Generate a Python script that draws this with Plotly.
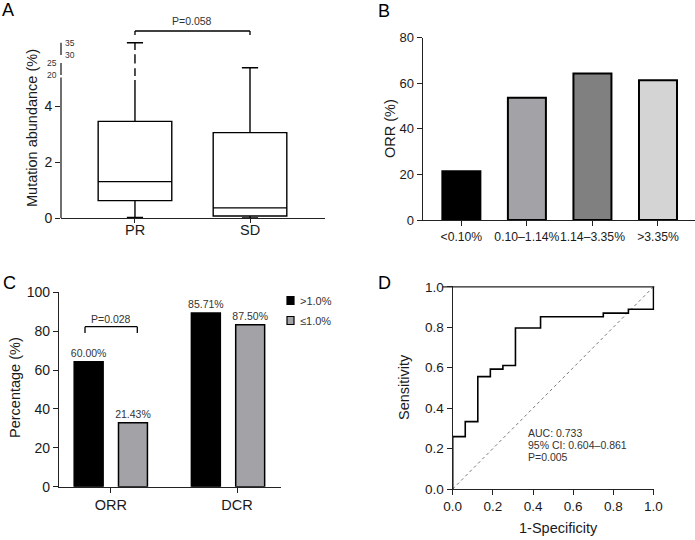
import plotly.graph_objects as go

W, H = 695, 540
FONT = "Liberation Sans, Arial, Helvetica, sans-serif"
TXT = "#1a1a1a"
AX = "#222222"

# ---------------- Data ----------------
# Panel A: mutation abundance box stats (%)
a_groups = ["PR", "SD"]
a_lower = [0.02, 0.0]
a_q1 = [0.62, 0.07]
a_median = [1.30, 0.36]
a_q3 = [3.45, 3.05]
a_upper = [35.0, 23.0]
a_p_text = "P=0.058"

# Panel B: ORR by abundance bins
b_cats = ["<0.10%", "0.10–1.14%", "1.14–3.35%", ">3.35%"]
b_orr = [21.4, 53.6, 64.3, 61.3]
b_colors = ["#000000", "#a3a3a7", "#808080", "#d4d4d4"]

# Panel C: ORR / DCR by group
c_cats = ["ORR", "DCR"]
c_high = [64.3, 89.3]
c_low = [32.9, 83.3]
c_high_lbl = ["60.00%", "85.71%"]
c_low_lbl = ["21.43%", "87.50%"]
c_series = [">1.0%", "≤1.0%"]
c_colors = ["#000000", "#a3a3a7"]
c_p_text = "P=0.028"

# Panel D: ROC curve
d_fpr = [0, 0, 0.0625, 0.125, 0.1875, 0.25, 0.3125, 0.4375, 0.75, 0.875, 1.0]
d_tpr = [0, 0.259, 0.333, 0.556, 0.593, 0.611, 0.796, 0.852, 0.870, 0.889, 1.0]
d_stats = ["AUC: 0.733", "95% CI: 0.604–0.861", "P=0.005"]


def px(x):
    return x / W


def py(y):
    return 1 - y / H


# broken-axis transform for panel A
def brk(v):
    if v <= 5:
        return v
    if v <= 25:
        return 5.11 + (v - 20) * 0.086
    return 5.82 + (v - 30) * 0.088


fig = go.Figure()

# ---------------- Panel A ----------------
for i, g in enumerate(a_groups):
    fig.add_trace(go.Box(
        x=[i], q1=[brk(a_q1[i])], median=[brk(a_median[i])], q3=[brk(a_q3[i])],
        lowerfence=[brk(a_lower[i])], upperfence=[brk(a_upper[i])],
        width=0.64, whiskerwidth=0.22, fillcolor="white",
        line=dict(color="black", width=1.4), boxpoints=False,
        xaxis="x", yaxis="y", showlegend=False, hoverinfo="skip"))

# ---------------- Panel B ----------------
fig.add_trace(go.Bar(
    x=b_cats, y=b_orr, width=0.58,
    marker=dict(color=b_colors, line=dict(color="black", width=2)),
    xaxis="x2", yaxis="y2", showlegend=False))

# ---------------- Panel C ----------------
bw = 0.247
fig.add_trace(go.Bar(
    x=[0, 1], y=c_high, width=bw, offset=-0.189 - bw / 2,
    marker=dict(color=c_colors[0], line=dict(color="black", width=1.5)),
    text=c_high_lbl, textposition="outside", cliponaxis=False, constraintext="none",
    textfont=dict(size=10.5, color="#333", family=FONT),
    xaxis="x3", yaxis="y3", name=c_series[0], showlegend=False))
fig.add_trace(go.Bar(
    x=[0, 1], y=c_low, width=bw, offset=0.189 - bw / 2,
    marker=dict(color=c_colors[1], line=dict(color="black", width=1.5)),
    text=c_low_lbl, textposition="outside", cliponaxis=False, constraintext="none",
    textfont=dict(size=10.5, color="#333", family=FONT),
    xaxis="x3", yaxis="y3", name=c_series[1], showlegend=False))

# ---------------- Panel D ----------------
fig.add_trace(go.Scatter(
    x=[0, 1], y=[0, 1], mode="lines",
    line=dict(color="#777", width=1, dash="dot"),
    xaxis="x4", yaxis="y4", showlegend=False, hoverinfo="skip"))
fig.add_trace(go.Scatter(
    x=d_fpr, y=d_tpr, mode="lines", line=dict(color="black", width=1.6, shape="hv"),
    xaxis="x4", yaxis="y4", showlegend=False))

axcommon = dict(showgrid=False, zeroline=False, linecolor=AX, linewidth=1.3,
                ticks="outside", tickcolor=AX, tickwidth=1.3, ticklen=5,
                automargin=False)

fig.update_layout(
    width=W, height=H, margin=dict(l=0, r=0, t=0, b=0, pad=0, autoexpand=False),
    autosize=False, showlegend=False,
    paper_bgcolor="white", plot_bgcolor="white",
    font=dict(family=FONT, color=TXT),
    barmode="overlay",
    xaxis=dict(domain=[px(61), px(325)], range=[-0.643, 1.652], anchor="y",
               tickvals=[0, 1], ticktext=["", ""], showline=True,
               tickfont=dict(size=14.5), **{**axcommon, "ticklen": 4}),
    yaxis=dict(domain=[py(218), py(38.8)], range=[0, 6.4], anchor="x",
               tickvals=[0, 2, 4], showline=False, tickfont=dict(size=14),
               **axcommon),
    xaxis2=dict(domain=[px(422.7), px(695)], range=[-0.59, 3.565], anchor="y2",
                type="category", showline=True, tickangle=0,
                tickfont=dict(size=12.2), **axcommon),
    yaxis2=dict(domain=[py(220), py(37.7)], range=[0, 80], anchor="x2",
                dtick=20, showline=True, tickfont=dict(size=13), **axcommon),
    xaxis3=dict(domain=[px(59), px(281)], range=[-0.442, 1.452], anchor="y3",
                tickvals=[0, 1.077], ticktext=c_cats, showline=True,
                tickfont=dict(size=14.5), **axcommon),
    yaxis3=dict(domain=[py(486.7), py(292.3)], range=[0, 100], anchor="x3",
                dtick=20, showline=True, tickfont=dict(size=14), **axcommon),
    xaxis4=dict(domain=[px(452.7), px(654.3)], range=[0, 1.004], anchor="y4",
                tickvals=[0, 0.2, 0.4, 0.6, 0.8, 1.0], tickformat=".1f",
                showline=True, tickfont=dict(size=13.5), **axcommon),
    yaxis4=dict(domain=[py(489), py(286)], range=[0, 1.004], anchor="x4",
                tickvals=[0, 0.2, 0.4, 0.6, 0.8, 1.0], tickformat=".1f",
                showline=True, tickfont=dict(size=13.5), **axcommon),
)

shapes = []
ann = []

# Panel A category labels (placed closer to axis, as in the reference)
for i, g in enumerate(a_groups):
    ann.append(dict(text=g, xref="x", yref="paper", x=i, y=py(230.5),
                    xanchor="center", yanchor="middle", showarrow=False,
                    font=dict(size=14.5, color=TXT)))

# Panel A broken y axis segments
for y0, y1 in [(0, 5.02), (5.11, 5.54), (5.82, 6.26)]:
    shapes.append(dict(type="line", xref="x domain", yref="y", x0=0, x1=0, y0=y0, y1=y1,
                       line=dict(color=AX, width=1.3)))
# gaps in PR whisker (dashed look across break)
for y0, y1 in [(4.93, 5.07), (5.35, 5.52), (5.85, 6.0)]:
    shapes.append(dict(type="line", xref="x", yref="y", x0=0, x1=0, y0=y0, y1=y1,
                       line=dict(color="white", width=3)))
# break labels
for v, side in [(20, "l"), (25, "l"), (30, "r"), (35, "r")]:
    yy = py(218 - brk(v) * 28)
    ann.append(dict(text=str(v), xref="paper", yref="paper",
                    x=px(59) if side == "l" else px(63), y=yy,
                    xanchor="right" if side == "l" else "left", yanchor="middle",
                    showarrow=False, font=dict(size=8.5, color="#333")))
# P bracket A
shapes += [
    dict(type="line", xref="x", yref="paper", x0=0, x1=1, y0=py(31), y1=py(31),
         line=dict(color="black", width=1.3)),
    dict(type="line", xref="x", yref="paper", x0=0, x1=0, y0=py(31), y1=py(35),
         line=dict(color="black", width=1.3)),
    dict(type="line", xref="x", yref="paper", x0=1, x1=1, y0=py(31), y1=py(35),
         line=dict(color="black", width=1.3)),
]
ann.append(dict(text=a_p_text, xref="x", yref="paper", x=0.5, y=py(21),
                xanchor="center", yanchor="middle",
                showarrow=False, font=dict(size=10.5, color="#333")))

# P bracket C
shapes += [
    dict(type="line", xref="paper", yref="paper", x0=px(85), x1=px(137.3), y0=py(326.7), y1=py(326.7),
         line=dict(color="black", width=1.3)),
    dict(type="line", xref="paper", yref="paper", x0=px(85), x1=px(85), y0=py(326.7), y1=py(333),
         line=dict(color="black", width=1.3)),
    dict(type="line", xref="paper", yref="paper", x0=px(137.3), x1=px(137.3), y0=py(326.7), y1=py(333),
         line=dict(color="black", width=1.3)),
]
ann.append(dict(text=c_p_text, xref="paper", yref="paper", x=px(111), y=py(318.5),
                xanchor="center", yanchor="middle",
                showarrow=False, font=dict(size=10.5, color="#333")))

# Legend C (manual)
for i, (name, col) in enumerate(zip(c_series, c_colors)):
    yc = 300.5 + i * 20
    shapes.append(dict(type="rect", xref="paper", yref="paper",
                       x0=px(287), x1=px(294), y0=py(yc - 4), y1=py(yc + 4),
                       fillcolor=col, line=dict(color="black", width=1.2)))
    ann.append(dict(text=name, xref="paper", yref="paper", x=px(298), y=py(yc),
                    xanchor="left", yanchor="middle", showarrow=False,
                    font=dict(size=11, color="#333")))

# Panel D top line
shapes.append(dict(type="line", xref="x4 domain", yref="y4", x0=-0.05, x1=1, y0=1.0, y1=1.0,
                   line=dict(color=AX, width=1.3)))
for i, t in enumerate(d_stats):
    ann.append(dict(text=t, xref="paper", yref="paper", x=px(525.5), y=py(432.7 + i * 12.2),
                    xanchor="left", yanchor="middle", showarrow=False,
                    font=dict(size=10.5, color="#333")))

# Axis titles
for text, x, y, rot in [("Mutation abundance (%)", 32, 128, -90),
                        ("ORR (%)", 390, 128, -90),
                        ("Percentage (%)", 15, 388, -90),
                        ("Sensitivity", 404, 387, -90),
                        ("1-Specificity", 558, 528, 0)]:
    ann.append(dict(text=text, xref="paper", yref="paper", x=px(x), y=py(y),
                    xanchor="center", yanchor="middle", textangle=rot, showarrow=False,
                    font=dict(size=14.5, color=TXT)))

# Panel letters
for text, x, y in [("A", 8, 10), ("B", 384, 11), ("C", 9, 283), ("D", 384, 283)]:
    ann.append(dict(text=text, xref="paper", yref="paper", x=px(x), y=py(y),
                    xanchor="center", yanchor="middle", showarrow=False,
                    font=dict(size=18, color="black")))

fig.update_layout(shapes=shapes, annotations=ann)
fig.write_html("out.html", config={"displayModeBar": False},
               post_script="document.body.style.margin='0';document.body.style.overflow='hidden';")
